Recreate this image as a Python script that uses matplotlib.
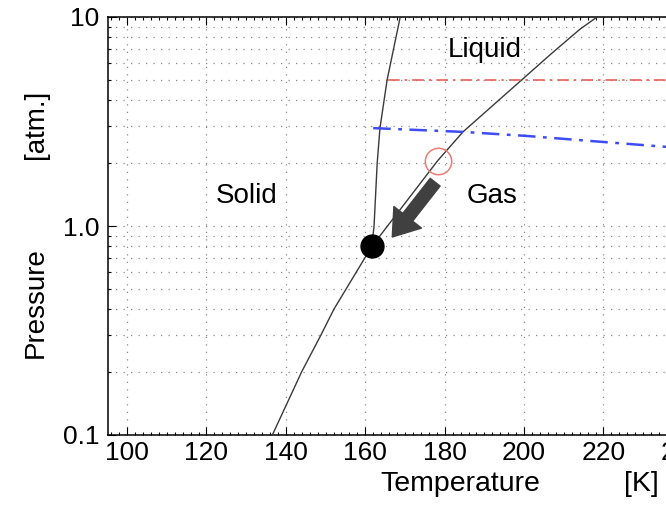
import matplotlib
matplotlib.use("Agg")
import matplotlib.pyplot as plt
from matplotlib.ticker import MultipleLocator, FixedLocator, FixedFormatter, LogLocator, NullFormatter

plt.rcParams['font.family'] = ['Liberation Sans', 'DejaVu Sans']

# Data (T in K, p in atm)
gas_T = [136.7, 144.0, 148.8, 152.1, 161.6, 169.8, 178.2, 184.6, 199.4, 206.8, 214.1, 218.4]
gas_p = [0.101, 0.201, 0.30, 0.40, 0.796, 1.27, 2.05, 2.82, 5.0, 6.66, 8.75, 10.0]

melt_T = [161.6, 162.2, 163.0, 163.7, 165.5, 168.8]
melt_p = [0.796, 0.99, 2.0, 2.94, 5.0, 10.0]

red_T = [165.7, 250.0]
red_p = [5.0, 5.0]

blue_T = [162.0, 184.6, 200.3, 220.4, 233.5, 240.0]
blue_p = [2.94, 2.82, 2.70, 2.52, 2.41, 2.36]

triple_T, triple_p = 161.6, 0.80
circle_T, circle_p = 178.2, 2.05
arrow_tail = (177.6, 1.62)
arrow_head = (166.8, 0.886)

x_ticks = [100, 120, 140, 160, 180, 200, 220, 240]
y_ticks = [0.1, 1.0, 10.0]
y_ticklabels = ['0.1', '1.0', '10']

fig = plt.figure(figsize=(6.66, 5.09), dpi=100)
W, H = 666, 509
ax = fig.add_axes([108 / W, 74 / H, 614.6 / W, 418 / H])
ax.set_yscale('log')
ax.set_xlim(95.2, 250)
ax.set_ylim(0.1, 10)

# grid
ax.xaxis.set_major_locator(FixedLocator(x_ticks))
ax.xaxis.set_minor_locator(MultipleLocator(2))
ax.yaxis.set_major_locator(FixedLocator(y_ticks))
ax.yaxis.set_major_formatter(FixedFormatter(y_ticklabels))
ax.yaxis.set_minor_locator(LogLocator(base=10, subs=[2, 3, 4, 5, 6, 7, 8, 9]))
ax.yaxis.set_minor_formatter(NullFormatter())
gstyle = dict(color='#8a8a8a', linestyle=(0, (1, 5)), linewidth=0.9)
ax.grid(True, which='major', axis='both', **gstyle)
ax.grid(True, which='minor', axis='y', **gstyle)
ax.set_axisbelow(True)

ax.tick_params(which='both', direction='in', top=True, right=True, colors='black',
               labelsize=19, width=0.8)
ax.tick_params(which='major', length=6)
ax.tick_params(which='minor', length=2.5)
ax.tick_params(axis='x', pad=4)
ax.tick_params(axis='y', pad=6)
for s in ax.spines.values():
    s.set_linewidth(1.1)
    s.set_color('black')

# curves
ax.plot(gas_T, gas_p, color='#3a3a3a', lw=1.0, zorder=3)
ax.plot(melt_T, melt_p, color='#3a3a3a', lw=1.0, zorder=3)
ax.plot(red_T, red_p, color='#e8605a', lw=1.2, linestyle=(0, (7, 3, 1.5, 3)), zorder=3)
ax.plot(blue_T, blue_p, color='#3d4cf5', lw=1.8, linestyle=(0, (7, 3, 1.5, 3)), zorder=3)

# markers
ax.plot([triple_T], [triple_p], 'o', color='black', markersize=16.5, zorder=5)
ax.plot([circle_T], [circle_p], 'o', markerfacecolor='none', markeredgecolor='#ee7b75',
        markersize=19, markeredgewidth=1.1, zorder=5)

ax.annotate('', xy=arrow_head, xytext=arrow_tail,
            arrowprops=dict(arrowstyle='simple,head_length=1.0,head_width=1.4,tail_width=0.5',
                            color='#404040', mutation_scale=18, shrinkA=0, shrinkB=0),
            zorder=6)

# region labels
ax.text(190.0, 6.95, 'Liquid', fontsize=20, ha='center', va='center')
ax.text(130.2, 1.39, 'Solid', fontsize=20, ha='center', va='center')
ax.text(191.9, 1.39, 'Gas', fontsize=20, ha='center', va='center')

# axis labels
fig.text(460 / W, 1 - 491 / H, 'Temperature', fontsize=20.5, ha='center', va='baseline')
fig.text(641 / W, 1 - 491 / H, '[K]', fontsize=20.5, ha='center', va='baseline')
fig.text(36 / W, 1 - 303 / H, 'Pressure', fontsize=20, ha='center', va='center', rotation=90)
fig.text(36 / W, 1 - 124 / H, '[atm.]', fontsize=20, ha='center', va='center', rotation=90)

fig.savefig('out.png', dpi=100)
